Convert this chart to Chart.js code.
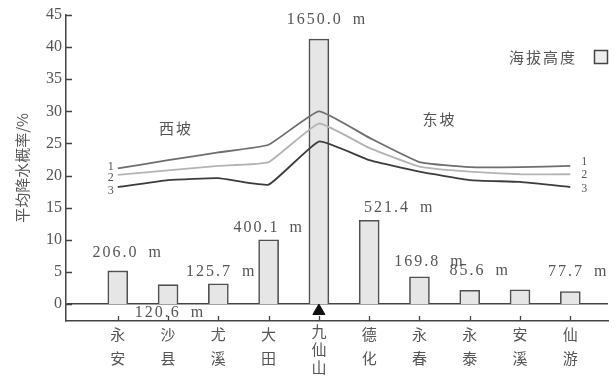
<!DOCTYPE html>
<html>
<head>
<meta charset="utf-8">
<script src="https://cdn.jsdelivr.net/npm/chart.js@4"></script>
<style>
  html, body { margin: 0; padding: 0; background: #fff; }
  #wrap { width: 616px; height: 383px; }
</style>
</head>
<body>
<div id="wrap"><canvas id="c"></canvas></div>
<script>
// Stations from west slope to east slope (label lines stacked vertically)
const stations = [
  ['永','安'], ['沙','县'], ['尤','溪'], ['大','田'], ['九','仙','山'],
  ['德','化'], ['永','春'], ['永','泰'], ['安','溪'], ['仙','游']
];
// Station elevation, metres
const elevation = [206.0, 120.6, 125.7, 400.1, 1650.0, 521.4, 169.8, 85.6, 88.0, 77.7];
const elevationLabelled = [true, true, true, true, true, true, true, true, false, true];
// Mean precipitation probability (%), three curves
const prob1 = [21.1, 22.4, 23.6, 24.8, 30.0, 25.9, 22.1, 21.3, 21.3, 21.5];
const prob2 = [20.1, 20.8, 21.5, 22.1, 28.1, 24.3, 21.4, 20.6, 20.2, 20.2];
const prob3 = [18.2, 19.3, 19.6, 18.6, 25.3, 22.4, 20.6, 19.3, 19.0, 18.2];
const yTicks = [0, 5, 10, 15, 20, 25, 30, 35, 40, 45];
const summitIndex = 4;

// Elevation shares the left axis at 40 m per percent unit
const M_PER_UNIT = 40;
const Y_MIN = -2.65, Y_MAX = 45;
const X_MIN = -1.03, X_MAX = 9.75;

const TXT = '#555';
const AXIS = '#444';
const SERIF = '"Liberation Serif", "DejaVu Serif", serif';
const CJK = '"Noto Sans CJK SC", sans-serif';

// label placement for elevation values: [dx, dy] from the bar top (px)
const elevLabelShift = [[10,-18],[2,28],[3,-12],[0,-12],[8,-19],[30,-12],[10,-15],[10,-19],[0,0],[8,-20]];
// curve number placement: dy at the left and right ends
const curveNumLeft = [-2, 3, 4];
const curveNumRight = [-4, 1, 2];

const pts = arr => arr.map((v, i) => ({ x: i, y: v }));

const annotate = {
  id: 'annotate',
  afterDatasetsDraw(chart) {
    const { ctx, scales } = chart;
    const x = scales.x, y = scales.y, ye = scales.yElev;
    ctx.save();
    ctx.fillStyle = TXT;
    ctx.textAlign = 'center';
    ctx.textBaseline = 'middle';

    // elevation values
    ctx.font = '16px ' + SERIF;
    ctx.letterSpacing = '2px';
    elevation.forEach((v, i) => {
      if (!elevationLabelled[i]) return;
      const [dx, dy] = elevLabelShift[i];
      ctx.fillText(v.toFixed(1) + '\u2002m', x.getPixelForValue(i) + dx, ye.getPixelForValue(v) + dy);
    });

    // curve numbers at both ends
    ctx.font = '12px ' + SERIF;
    ctx.letterSpacing = '0px';
    [prob1, prob2, prob3].forEach((arr, k) => {
      const n = arr.length - 1;
      ctx.fillText(String(k + 1), x.getPixelForValue(0) - 7, y.getPixelForValue(arr[0]) + curveNumLeft[k]);
      ctx.fillText(String(k + 1), x.getPixelForValue(n) + 14, y.getPixelForValue(arr[n]) + curveNumRight[k]);
    });

    // slope names
    ctx.font = '15px ' + CJK;
    ctx.letterSpacing = '2px';
    ctx.fillText('西坡', x.getPixelForValue(1.16), y.getPixelForValue(27.4));
    ctx.fillText('东坡', x.getPixelForValue(6.4), y.getPixelForValue(28.8));

    // legend: text then an empty box
    ctx.textAlign = 'right';
    ctx.fillText('海拔高度', 577, 57);
    ctx.fillStyle = '#eeeeee';
    ctx.fillRect(594.5, 50.5, 13, 13);
    ctx.strokeStyle = AXIS;
    ctx.lineWidth = 1.5;
    ctx.strokeRect(594.5, 50.5, 13, 13);

    // inward tick marks
    ctx.strokeStyle = AXIS;
    ctx.lineWidth = 1.3;
    ctx.beginPath();
    yTicks.forEach(v => {
      const py = Math.round(y.getPixelForValue(v)) + 0.5;
      ctx.moveTo(x.left, py);
      ctx.lineTo(x.left + 6, py);
    });
    stations.forEach((s, i) => {
      const px = Math.round(x.getPixelForValue(i)) + 0.5;
      ctx.moveTo(px, y.bottom);
      ctx.lineTo(px, y.bottom - 5);
    });
    ctx.stroke();
    ctx.restore();
  }
};

new Chart(document.getElementById('c'), {
  data: {
    datasets: [
      { type: 'line', label: '1', data: pts(prob1), yAxisID: 'y', borderColor: '#6e6e6e', borderWidth: 1.8, pointRadius: 0, tension: 0.12, order: 1 },
      { type: 'line', label: '2', data: pts(prob2), yAxisID: 'y', borderColor: '#b4b4b4', borderWidth: 1.8, pointRadius: 0, tension: 0.12, order: 1 },
      { type: 'line', label: '3', data: pts(prob3), yAxisID: 'y', borderColor: '#3c3c3c', borderWidth: 1.8, pointRadius: 0, tension: 0.12, order: 1 },
      { type: 'scatter', label: 'summit', data: [{ x: summitIndex, y: -1.1 }], yAxisID: 'y', pointStyle: 'triangle', pointRadius: 7, backgroundColor: '#111', borderColor: '#111', borderWidth: 1, order: 0 },
      { type: 'bar', label: '海拔高度', data: pts(elevation), yAxisID: 'yElev', backgroundColor: '#e6e6e6', borderColor: '#505050', borderWidth: 1.6, barThickness: 20, order: 2 }
    ]
  },
  options: {
    responsive: true,
    maintainAspectRatio: false,
    animation: false,
    layout: { padding: { top: 15, right: 4, left: 0, bottom: 0 } },
    plugins: { legend: { display: false }, tooltip: { enabled: false } },
    scales: {
      x: {
        type: 'linear', min: X_MIN, max: X_MAX, offset: false,
        afterBuildTicks: s => { s.ticks = stations.map((_, i) => ({ value: i })); },
        afterFit: s => { s.height = 62; },
        grid: { display: false, drawTicks: false, offset: false },
        border: { display: true, color: AXIS, width: 1.5 },
        ticks: {
          autoSkip: false, maxRotation: 0, padding: 1, color: TXT,
          callback: v => stations[v],
          font: ctx => ({ family: CJK, size: 15,
            lineHeight: (ctx.tick && stations[ctx.tick.value] && stations[ctx.tick.value].length === 3) ? 1.2 : 1.6 })
        }
      },
      y: {
        position: 'left', min: Y_MIN, max: Y_MAX,
        afterBuildTicks: s => { s.ticks = yTicks.map(v => ({ value: v })); },
        afterFit: s => { s.width = 66; },
        grid: { drawTicks: false, lineWidth: 1.5, color: ctx => (ctx.tick && ctx.tick.value === 0) ? AXIS : 'rgba(0,0,0,0)' },
        border: { display: true, color: AXIS, width: 1.5 },
        ticks: { padding: 4, color: TXT, font: { family: SERIF, size: 16 } },
        title: { display: true, text: '平均降水概率/%', color: TXT, font: { family: CJK, size: 15 }, padding: { top: 13, bottom: 0 } }
      },
      yElev: {
        display: false, min: Y_MIN * M_PER_UNIT, max: Y_MAX * M_PER_UNIT
      }
    }
  },
  plugins: [annotate]
});
</script>
</body>
</html>
